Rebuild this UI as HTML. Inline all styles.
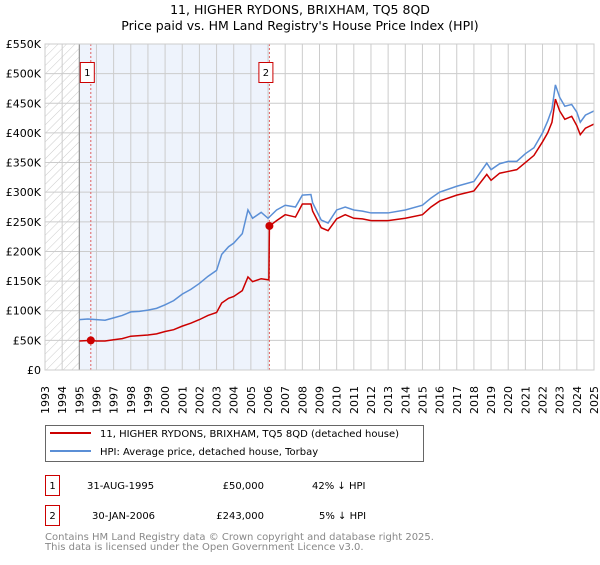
<!DOCTYPE html>
<html><head><meta charset="utf-8"><style>
body{margin:0;background:#fff;}
svg text{font-family:"DejaVu Sans","Liberation Sans",sans-serif;}
</style></head><body>
<svg id="c" width="600" height="560" xmlns="http://www.w3.org/2000/svg">
<defs><pattern id="hatch" patternUnits="userSpaceOnUse" width="6" height="6" patternTransform="rotate(45)"><line x1="0" y1="0" x2="0" y2="6" stroke="#ccc" stroke-width="1"/></pattern></defs>
<text x="300" y="14" font-size="12.5" text-anchor="middle">11, HIGHER RYDONS, BRIXHAM, TQ5 8QD</text>
<text x="300" y="30" font-size="12.5" text-anchor="middle">Price paid vs. HM Land Registry's House Price Index (HPI)</text>
<g id="plot"></g>
<g>
<rect x="45.5" y="425.5" width="378" height="36" fill="#fff" stroke="#666"/>
<line x1="50" y1="433" x2="91" y2="433" stroke="#cc0000" stroke-width="2"/>
<text x="100" y="437" font-size="10">11, HIGHER RYDONS, BRIXHAM, TQ5 8QD (detached house)</text>
<line x1="50" y1="451" x2="91" y2="451" stroke="#5b8fd6" stroke-width="2"/>
<text x="100" y="455" font-size="10">HPI: Average price, detached house, Torbay</text>
</g>
<g font-size="10">
<rect x="45.5" y="475.5" width="14" height="20" fill="#fff" stroke="#cc0000"/><text x="52.5" y="489" text-anchor="middle">1</text>
<text x="87" y="489">31-AUG-1995</text><text x="264" y="489" text-anchor="end">£50,000</text><text x="312" y="489">42% ↓ HPI</text>
<rect x="45.5" y="505.5" width="14" height="20" fill="#fff" stroke="#cc0000"/><text x="52.5" y="519" text-anchor="middle">2</text>
<text x="92" y="519">30-JAN-2006</text><text x="264" y="519" text-anchor="end">£243,000</text><text x="319" y="519">5% ↓ HPI</text>
</g>
<text x="45" y="540" font-size="10" fill="#888">Contains HM Land Registry data © Crown copyright and database right 2025.</text>
<text x="45" y="550" font-size="10" fill="#888">This data is licensed under the Open Government Licence v3.0.</text>
</svg>
<script>
const hpiYears=[1995,1995.5,1996,1996.5,1997,1997.5,1998,1998.5,1999,1999.5,2000,2000.5,2001,2001.5,2002,2002.5,2003,2003.3,2003.7,2004,2004.5,2004.83,2005.1,2005.6,2006,2006.5,2007,2007.6,2008,2008.5,2008.6,2009.1,2009.5,2010,2010.5,2011,2011.5,2012,2013,2014,2015,2015.5,2016,2017,2018,2018.75,2019,2019.5,2020,2020.5,2021,2021.5,2022,2022.3,2022.55,2022.75,2023,2023.3,2023.7,2024,2024.2,2024.5,2025];
const hpiValues=[85,86,85,84,88,92,98,99,101,104,110,117,128,136,146,158,168,195,208,214,230,270,256,266,256,270,278,275,295,296,282,253,248,270,275,270,268,265,265,270,278,290,300,310,318,349,338,348,352,352,365,375,400,420,440,481,460,445,448,435,418,430,437];
const paidYears=[1995,1995.67,1996,1996.5,1997,1997.5,1998,1998.5,1999,1999.5,2000,2000.5,2001,2001.5,2002,2002.5,2003,2003.3,2003.7,2004,2004.5,2004.83,2005.1,2005.6,2006.05,2006.08,2006.5,2007,2007.6,2008,2008.5,2008.6,2009.1,2009.5,2010,2010.5,2011,2011.5,2012,2013,2014,2015,2015.5,2016,2017,2018,2018.75,2019,2019.5,2020,2020.5,2021,2021.5,2022,2022.3,2022.55,2022.75,2023,2023.3,2023.7,2024,2024.2,2024.5,2025];
const paidValues=[49,50,49,49,51,53,57,58,59,61,65,68,74,79,85,92,97,113,121,124,134,157,149,154,152,243,252,262,258,280,280,268,240,235,255,262,256,255,252,252,256,262,275,285,295,302,330,320,332,335,338,350,362,385,400,418,457,437,423,428,412,397,408,415];
const saleYears=[1995.67,2006.08];
const saleValues=[50,243];
const saleLabels=["1","2"];
const yTicks=[0,50,100,150,200,250,300,350,400,450,500,550];
const yTickLabels=["£0","£50K","£100K","£150K","£200K","£250K","£300K","£350K","£400K","£450K","£500K","£550K"];
const xTicks=[1993,1994,1995,1996,1997,1998,1999,2000,2001,2002,2003,2004,2005,2006,2007,2008,2009,2010,2011,2012,2013,2014,2015,2016,2017,2018,2019,2020,2021,2022,2023,2024,2025];

const L=45,R=594,T=44,B=370;
const x=y=>L+(y-1993)/32*(R-L);
const yS=v=>B-v/550*(B-T);
const g=document.getElementById('plot');
const NS='http://www.w3.org/2000/svg';
function mk(t,a){const e=document.createElementNS(NS,t);for(const k in a)e.setAttribute(k,a[k]);g.appendChild(e);return e;}

let e=mk('rect',{x:L,y:T,width:x(1995)-L,height:B-T,fill:'url(#hatch)'});


e=mk('rect',{x:x(1995),y:T,width:x(saleYears[1])-x(1995),height:B-T,fill:'#eef3fc'});


yTicks.forEach((v,i)=>{
  e=mk('line',{x1:L,x2:R,y1:yS(v),y2:yS(v),stroke:'#ccc','stroke-width':1});
  
  
  e=mk('text',{x:L-4,y:yS(v)+4,'font-size':11,'text-anchor':'end'});
  e.textContent=yTickLabels[i];
  
  
});
xTicks.forEach(t=>{
  e=mk('line',{x1:x(t),x2:x(t),y1:T,y2:B,stroke:'#ccc','stroke-width':1});
  
  
  e=mk('text',{x:0,y:0,'font-size':11,transform:`translate(${x(t)+4},${B+44}) rotate(-90)`});
  e.textContent=String(t);
  
  
});
e=mk('line',{x1:x(1995),x2:x(1995),y1:T,y2:B,stroke:'#888','stroke-width':1});


saleYears.forEach((s,i)=>{
  e=mk('line',{x1:x(s),x2:x(s),y1:T,y2:B,stroke:'#e06060','stroke-width':1,'stroke-dasharray':'2,2'});
  
  
  e=mk('rect',{x:x(s)-10.5,y:62.5,width:14,height:20,fill:'#fff',stroke:'#cc0000'});
  
  
  e=mk('text',{x:x(s)-3.5,y:76,'font-size':10,'text-anchor':'middle'});
  e.textContent=saleLabels[i];
  
  
});
e=mk('polyline',{points:hpiYears.map((t,i)=>x(t)+','+yS(hpiValues[i])).join(' '),fill:'none',stroke:'#5b8fd6','stroke-width':1.5});


e=mk('polyline',{points:paidYears.map((t,i)=>x(t)+','+yS(paidValues[i])).join(' '),fill:'none',stroke:'#cc0000','stroke-width':1.5});


saleYears.forEach((s,i)=>{
  e=mk('circle',{cx:x(s),cy:yS(saleValues[i]),r:4,fill:'#cc0000'});
  
  
});
e=mk('rect',{x:L,y:T,width:R-L,height:B-T,fill:'none',stroke:'#ccc'});


</script>
</body></html>
